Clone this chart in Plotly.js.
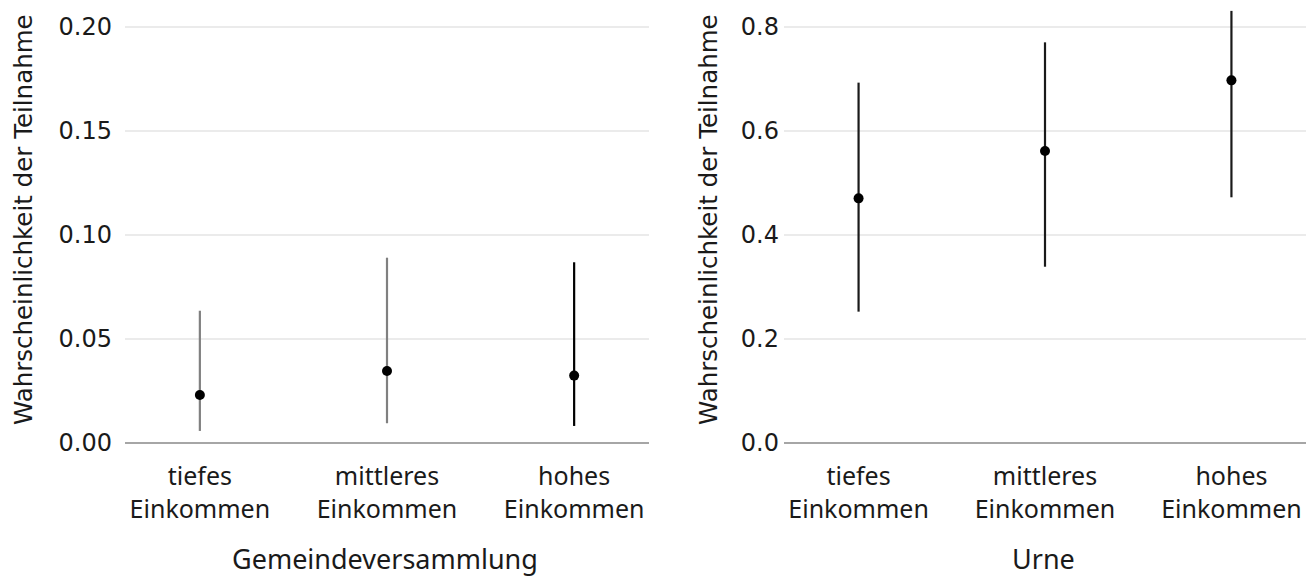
<!DOCTYPE html>
<html>
<head>
<meta charset="utf-8">
<script src="https://cdn.plot.ly/plotly-3.0.1.min.js"></script>
<style>html,body{margin:0;padding:0;background:#fff;}#chart{width:1306px;height:578px;}</style>
</head>
<body>
<div id="chart"></div>
<script>
const categories = ["tiefes<br>Einkommen", "mittleres<br>Einkommen", "hohes<br>Einkommen"];
const panelTitles = ["Gemeindeversammlung", "Urne"];
const yTitle = "Wahrscheinlichkeit der Teilnahme";

const gvEst = [0.0231, 0.0346, 0.0324];
const gvLow = [0.0058, 0.0095, 0.0082];
const gvHigh = [0.0636, 0.0891, 0.0869];
const gvColors = ["#808080", "#808080", "#000000"];

const urEst = [0.4705, 0.5615, 0.6974];
const urLow = [0.2526, 0.3390, 0.4725];
const urHigh = [0.6930, 0.7705, 0.8310];
const urColors = ["#1a1a1a", "#1a1a1a", "#1a1a1a"];

const xIdx = [0, 1, 2];
const traces = [];
function addPanel(est, low, high, colors, xa, ya) {
  est.forEach((v, i) => {
    traces.push({
      type: "scatter", mode: "markers", x: [xIdx[i]], y: [v], xaxis: xa, yaxis: ya,
      marker: {color: "#000", size: 10},
      error_y: {type: "data", symmetric: false, array: [high[i] - v], arrayminus: [v - low[i]],
                color: colors[i], thickness: 2.2, width: 0},
      showlegend: false, hoverinfo: "y", cliponaxis: false
    });
  });
}
addPanel(gvEst, gvLow, gvHigh, gvColors, "x", "y");
addPanel(urEst, urLow, urHigh, urColors, "x2", "y2");

const tickFont = {family: "DejaVu Sans", size: 24, color: "#1a1a1a"};
const catFont = {family: "Noto Sans", size: 25, color: "#1a1a1a"};
const xCommon = {
  tickvals: xIdx, ticktext: categories, range: [-0.4, 2.4], showgrid: false, zeroline: false,
  ticks: "", tickfont: catFont, showline: false, fixedrange: true, ticklabelstandoff: 16
};
const yCommon = {
  showgrid: true, gridcolor: "#ebebeb", gridwidth: 2, zeroline: true, zerolinecolor: "#a6a6a6",
  zerolinewidth: 2.5, ticks: "", tickfont: tickFont, showline: false
};
const layout = {
  width: 1306, height: 578,
  margin: {l: 0, r: 0, t: 0, b: 0},
  paper_bgcolor: "#fff", plot_bgcolor: "#fff",
  showlegend: false,
  xaxis: Object.assign({}, xCommon, {domain: [125/1306, 649/1306], anchor: "y"}),
  xaxis2: Object.assign({}, xCommon, {domain: [784/1306, 1], anchor: "y2"}),
  yaxis: Object.assign({}, yCommon, {domain: [135/578, 568/578], range: [0, 0.2082], dtick: 0.05,
    tickformat: ".2f", anchor: "x", ticklabelstandoff: 12}),
  yaxis2: Object.assign({}, yCommon, {domain: [135/578, 568/578], range: [0, 0.8327], dtick: 0.2,
    tickformat: ".1f", anchor: "x2", ticklabelstandoff: 4}),
  annotations: [
    {text: yTitle, xref: "paper", yref: "paper", x: 23/1306, y: 1 - 220/578, textangle: -90,
     showarrow: false, font: {family: "DejaVu Sans", size: 24.5, color: "#1a1a1a"}, xanchor: "center", yanchor: "middle"},
    {text: yTitle, xref: "paper", yref: "paper", x: 708/1306, y: 1 - 220/578, textangle: -90,
     showarrow: false, font: {family: "DejaVu Sans", size: 24.5, color: "#1a1a1a"}, xanchor: "center", yanchor: "middle"},
    {text: panelTitles[0], xref: "paper", yref: "paper", x: 385/1306, y: 0,
     showarrow: false, font: {family: "Noto Sans", size: 27, color: "#1a1a1a"}, xanchor: "center", yanchor: "bottom", borderpad: 0},
    {text: panelTitles[1], xref: "paper", yref: "paper", x: 1043/1306, y: 0,
     showarrow: false, font: {family: "Noto Sans", size: 27, color: "#1a1a1a"}, xanchor: "center", yanchor: "bottom", borderpad: 0}
  ]
};
Plotly.newPlot("chart", traces, layout, {displayModeBar: false, staticPlot: true});
</script>
</body>
</html>
